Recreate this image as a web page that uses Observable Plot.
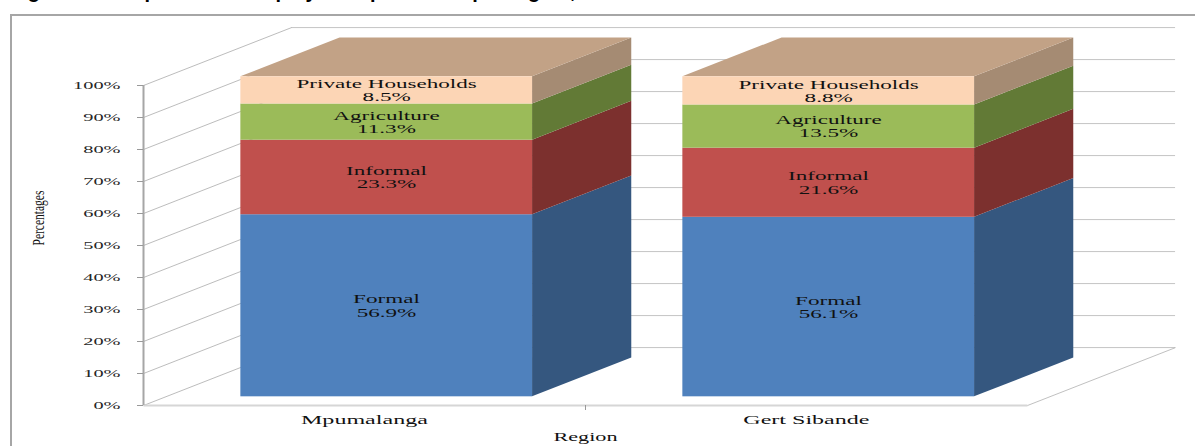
<!DOCTYPE html>
<html><head><meta charset="utf-8">
<script src="https://cdn.jsdelivr.net/npm/d3@7"></script>
<script src="https://cdn.jsdelivr.net/npm/@observablehq/plot@0.6"></script>
<style>
html,body{margin:0;padding:0;background:#fff;overflow:hidden;}
#wrap{position:relative;width:1195px;height:446px;overflow:hidden;}
#title{position:absolute;left:10px;top:-19px;font:bold 20px "Liberation Sans",Arial,sans-serif;white-space:nowrap;color:#000;line-height:20px;}
#frame{position:absolute;left:10px;top:14px;width:1400px;height:600px;border-left:2px solid #a6a6a6;border-top:2px solid #a6a6a6;pointer-events:none;}
#chart{position:absolute;left:0;top:0;}
</style></head>
<body><div id="wrap"><div id="chart"></div><div id="frame"></div><div id="title">Figure 3: Comparison of employment per sector per region, 2011</div></div>
<script>
// ---- data ----
const regions = ["Mpumalanga", "Gert Sibande"];
const sectors = ["Formal", "Informal", "Agriculture", "Private Households"];
const mpumalangaShares = [56.9, 23.3, 11.3, 8.5];
const gertSibandeShares = [56.1, 21.6, 13.5, 8.8];
const yTicks = [0, 10, 20, 30, 40, 50, 60, 70, 80, 90, 100];
const xAxisTitle = "Region";
const yAxisTitle = "Percentages";

// ---- styles ----
const frontColors = {"Formal": "#4f81bd", "Informal": "#c0504d", "Agriculture": "#9bbb59", "Private Households": "#fcd5b5"};
const sideColors = {"Formal": "#35577f", "Informal": "#7c302e", "Agriculture": "#627a36", "Private Households": "#a58b73"};
const topColor = "#c2a286";

// oblique 3-D geometry, in scale units
const depthX = 0.335, depthY = 18.1;   // full wall depth
const frontF = 0.15, backF = 0.82;     // bar front / back depth fractions
const half = 0.33;                     // half bar width

const seriesByRegion = [mpumalangaShares, gertSibandeShares];
const segments = [];
const tops = [];
seriesByRegion.forEach((vals, i) => {
  let acc = 0;
  vals.forEach((v, j) => {
    segments.push({i, region: regions[i], sector: sectors[j], lo: acc, hi: acc + v, value: v});
    acc += v;
  });
  tops.push({i, total: acc});
});

const front = segments.map(s => ({
  ...s,
  x1: s.i - half + frontF * depthX, x2: s.i + half + frontF * depthX,
  y1: s.lo + frontF * depthY, y2: s.hi + frontF * depthY,
  xc: s.i + frontF * depthX, yc: (s.lo + s.hi) / 2 + frontF * depthY,
  fill: frontColors[s.sector],
  label: `${s.sector}\n${s.value.toFixed(1)}%`
}));
const sides = segments.flatMap((s, k) => [frontF, backF].map(f => ({
  key: k, x: s.i + half + f * depthX, y1: s.lo + f * depthY, y2: s.hi + f * depthY, fill: sideColors[s.sector]
})));
const topFaces = tops.flatMap(t => [frontF, backF].map(f => ({
  key: t.i, y: t.total + f * depthY, x1: t.i - half + f * depthX, x2: t.i + half + f * depthX
})));

const serif = "'Liberation Serif','Times New Roman',serif";
const gridColor = "#c4c4c4";

const chart = Plot.plot({
  width: 1195, height: 446,
  marginLeft: 143, marginRight: 168, marginTop: 85, marginBottom: 41,
  x: {type: "linear", domain: [-0.5, 1.5]},
  y: {type: "linear", domain: [0, 100]},
  color: {type: "identity"},
  style: {fontFamily: serif, background: "transparent", overflow: "visible"},
  marks: [
    // back wall gridlines
    Plot.ruleY(yTicks, {y: d => d + depthY, x1: -0.5 + depthX, x2: 1.5 + depthX, stroke: gridColor, strokeWidth: 1}),
    // left wall diagonals
    Plot.link(yTicks, {x1: -0.5, y1: d => d, x2: -0.5 + depthX, y2: d => d + depthY, stroke: "#ababab", strokeWidth: 0.8}),
    // floor edges
    Plot.link([0], {x1: -0.5, y1: 0, x2: 1.5, y2: 0, stroke: "#d6d6d6", strokeWidth: 2}),
    Plot.link([0], {x1: 1.5, y1: 0, x2: 1.5 + depthX, y2: depthY, stroke: "#b0b0b0", strokeWidth: 0.8}),
    // vertical axis line
    Plot.ruleX([-0.5], {y1: 0, y2: 100, stroke: "#a6a6a6", strokeWidth: 2}),
    // bars: sides, tops, fronts
    Plot.areaY(sides, {x: "x", y1: "y1", y2: "y2", z: "key", fill: "fill"}),
    Plot.areaX(topFaces, {y: "y", x1: "x1", x2: "x2", z: "key", fill: topColor}),
    Plot.rect(front, {x1: "x1", x2: "x2", y1: "y1", y2: "y2", fill: "fill"}),
    Plot.text(front, {x: "xc", y: "yc", text: "label", fontSize: 12.5, lineHeight: 1.05, fill: "#111", fontFamily: serif}),
    // axes
    Plot.axisY(yTicks, {tickFormat: d => d + "%", tickSize: 6, tickPadding: 17, fontSize: 11, fontFamily: serif, stroke: "#999", fill: "#262626", label: null}),
    Plot.axisX([0, 1], {tickSize: 0, tickPadding: 9, tickFormat: i => regions[i], fontSize: 13, fontFamily: serif, fill: "#111", label: null}),
    Plot.axisX([0.5], {tickSize: 5, tickFormat: () => "", stroke: "#999", label: null}),
    Plot.text([xAxisTitle], {x: 0.5, y: 0, dy: 32, text: d => d, fontSize: 12, fill: "#111", fontFamily: serif}),
    Plot.text([yAxisTitle], {frameAnchor: "left", dx: -105, rotate: -90, text: d => d, fontSize: 11.5, fill: "#111", fontFamily: serif})
  ]
});

document.getElementById("chart").appendChild(chart);

// horizontally stretched lettering, as in the reference image
chart.querySelectorAll("text").forEach(t => {
  if (!t.textContent) return;
  const bb = t.getBBox();
  const tr = t.getAttribute("transform") || "";
  if (t.textContent === yAxisTitle) {
    const cy = bb.y + bb.height / 2;
    t.setAttribute("transform", `${tr} translate(0,${cy}) scale(1,1.5) translate(0,${-cy})`);
  } else {
    const cs = getComputedStyle(t).textAnchor;
    const ax = cs === "end" ? bb.x + bb.width : cs === "middle" ? bb.x + bb.width / 2 : bb.x;
    t.setAttribute("transform", `${tr} translate(${ax},0) scale(1.85,1) translate(${-ax},0)`);
  }
});
</script>
</body></html>
